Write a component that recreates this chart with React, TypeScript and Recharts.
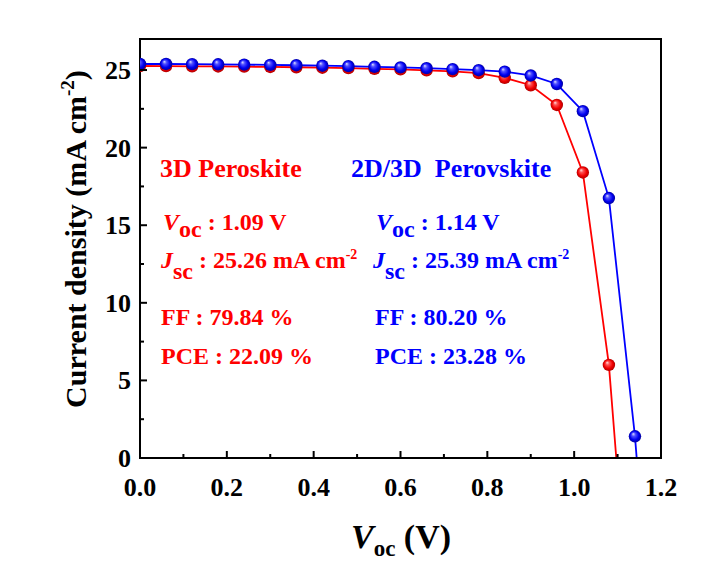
import { LineChart, Line, XAxis, YAxis, ReferenceArea } from "recharts";

// J-V data
const voltage3D = [0, 0.06, 0.12, 0.18, 0.24, 0.3, 0.36, 0.42, 0.48, 0.54, 0.6, 0.66, 0.72, 0.78, 0.84, 0.9, 0.96, 1.02, 1.08, 1.097];
const current3D = [25.26, 25.25, 25.24, 25.23, 25.22, 25.2, 25.18, 25.15, 25.12, 25.08, 25.04, 24.98, 24.92, 24.8, 24.5, 24.02, 22.75, 18.4, 6.0, 0];

const voltage2D3D = [0, 0.06, 0.12, 0.18, 0.24, 0.3, 0.36, 0.42, 0.48, 0.54, 0.6, 0.66, 0.72, 0.78, 0.84, 0.9, 0.96, 1.02, 1.08, 1.14, 1.144];
const current2D3D = [25.39, 25.39, 25.38, 25.37, 25.35, 25.33, 25.31, 25.28, 25.25, 25.21, 25.17, 25.12, 25.06, 24.99, 24.9, 24.65, 24.1, 22.35, 16.75, 1.4, 0];

// last point of each curve is where it crosses zero, drawn without a ball
const markerCount3D = 19;
const markerCount2D3D = 20;

const xTicks = [0, 0.1, 0.2, 0.3, 0.4, 0.5, 0.6, 0.7, 0.8, 0.9, 1.0, 1.1, 1.2];
const yTicks = [0, 2.5, 5, 7.5, 10, 12.5, 15, 17.5, 20, 22.5, 25];

const data3D = voltage3D.map((v, i) => ({ v, j: current3D[i] }));
const data2D3D = voltage2D3D.map((v, i) => ({ v, j: current2D3D[i] }));

const RED = "#ff0000";
const BLUE = "#0000ff";
const FONT = "'Liberation Serif', 'Times New Roman', serif";

const XTick = (props: any) => {
  const { x, y, payload } = props;
  const major = Math.round(payload.value * 10) % 2 === 0;
  return (
    <g>
      <line x1={x} y1={y} x2={x} y2={y - (major ? 7 : 4)} stroke="#000" strokeWidth={2} />
      {major && (
        <text x={x} y={y + 38} textAnchor="middle" fontFamily={FONT} fontWeight="bold" fontSize={26} fill="#000">
          {payload.value.toFixed(1)}
        </text>
      )}
    </g>
  );
};

const YTick = (props: any) => {
  const { x, y, payload } = props;
  const major = payload.value % 5 === 0;
  return (
    <g>
      <line x1={x} y1={y} x2={x + (major ? 7 : 4)} y2={y} stroke="#000" strokeWidth={2} />
      {major && (
        <text x={x - 9} y={y + 9} textAnchor="end" fontFamily={FONT} fontWeight="bold" fontSize={26} fill="#000">
          {payload.value}
        </text>
      )}
    </g>
  );
};

const makeDot = (grad: string, count: number) => (props: any) => {
  const { cx, cy, index } = props;
  if (index >= count) return <g key={`d-${index}`} />;
  return <circle key={`d-${index}`} cx={cx} cy={cy} r={6.2} fill={`url(#${grad})`} />;
};

export default function App() {
  return (
    <div style={{ position: "absolute", left: 0, top: 0, width: 705, height: 583, background: "#fff" }}>
      <svg width={0} height={0} style={{ position: "absolute" }}>
        <defs>
          <radialGradient id="ballRed" cx="50%" cy="50%" r="50%" fx="35%" fy="30%">
            <stop offset="0%" stopColor="#ffe0e0" />
            <stop offset="30%" stopColor="#ff5050" />
            <stop offset="70%" stopColor="#f00000" />
            <stop offset="100%" stopColor="#b00000" />
          </radialGradient>
          <radialGradient id="ballBlue" cx="50%" cy="50%" r="50%" fx="35%" fy="30%">
            <stop offset="0%" stopColor="#e0e0ff" />
            <stop offset="30%" stopColor="#5050ff" />
            <stop offset="70%" stopColor="#0000f0" />
            <stop offset="100%" stopColor="#0000a0" />
          </radialGradient>
        </defs>
      </svg>
      <LineChart width={705} height={583} margin={{ top: 39, right: 44, bottom: 95, left: 80 }}>
        <XAxis
          dataKey="v"
          type="number"
          domain={[0, 1.2]}
          ticks={xTicks}
          interval={0}
          allowDataOverflow
          height={30}
          tickSize={0}
          tickMargin={0}
          tickLine={false}
          tick={<XTick />}
          axisLine={{ stroke: "#000", strokeWidth: 2 }}
        />
        <YAxis
          type="number"
          domain={[0, 27]}
          ticks={yTicks}
          interval={0}
          allowDataOverflow
          width={60}
          tickSize={0}
          tickMargin={0}
          tickLine={false}
          tick={<YTick />}
          axisLine={{ stroke: "#000", strokeWidth: 2 }}
        />
        <ReferenceArea x1={0} x2={1.2} y1={0} y2={27} fill="none" stroke="#000" strokeWidth={2} />
        <Line
          data={data3D}
          dataKey="j"
          stroke={RED}
          strokeWidth={1.8}
          dot={makeDot("ballRed", markerCount3D)}
          isAnimationActive={false}
        />
        <Line
          data={data2D3D}
          dataKey="j"
          stroke={BLUE}
          strokeWidth={1.8}
          dot={makeDot("ballBlue", markerCount2D3D)}
          isAnimationActive={false}
        />
      </LineChart>
      <svg
        width={705}
        height={583}
        style={{ position: "absolute", left: 0, top: 0, pointerEvents: "none" }}
        fontFamily={FONT}
        fontWeight="bold"
      >
        {/* axis titles */}
        <text x={401} y={548} textAnchor="middle" fontSize={34} fill="#000">
          <tspan fontStyle="italic">V</tspan>
          <tspan dy={8} fontSize={23}>oc</tspan>
          <tspan dy={-8}> (V)</tspan>
        </text>
        <text transform="translate(86,239) rotate(-90)" textAnchor="middle" fontSize={30} fill="#000">
          Current density (mA cm<tspan dy={-12} fontSize={19}>-2</tspan>
          <tspan dy={12}>)</tspan>
        </text>

        {/* 3D column */}
        <g fill={RED} fontSize={24}>
          <text x={160} y={177} fontSize={26}>3D Peroskite</text>
          <text x={163} y={230}>
            <tspan fontStyle="italic">V</tspan>
            <tspan dy={7}>oc</tspan>
            <tspan dy={-7}> : 1.09 V</tspan>
          </text>
          <text x={161} y={268}>
            <tspan fontStyle="italic">J</tspan>
            <tspan dy={11}>sc</tspan>
            <tspan dy={-11}> : 25.26 mA cm</tspan>
            <tspan dy={-9} fontSize={14}>-2</tspan>
          </text>
          <text x={161} y={325}>FF : 79.84 %</text>
          <text x={161} y={364}>PCE : 22.09 %</text>
        </g>

        {/* 2D/3D column */}
        <g fill={BLUE} fontSize={24}>
          <text x={351} y={177} fontSize={26} style={{ whiteSpace: "pre" }}>2D/3D  Perovskite</text>
          <text x={376} y={230}>
            <tspan fontStyle="italic">V</tspan>
            <tspan dy={7}>oc</tspan>
            <tspan dy={-7}> : 1.14 V</tspan>
          </text>
          <text x={373} y={268}>
            <tspan fontStyle="italic">J</tspan>
            <tspan dy={11}>sc</tspan>
            <tspan dy={-11}> : 25.39 mA cm</tspan>
            <tspan dy={-9} fontSize={14}>-2</tspan>
          </text>
          <text x={375} y={325}>FF : 80.20 %</text>
          <text x={375} y={364}>PCE : 23.28 %</text>
        </g>
      </svg>
    </div>
  );
}
